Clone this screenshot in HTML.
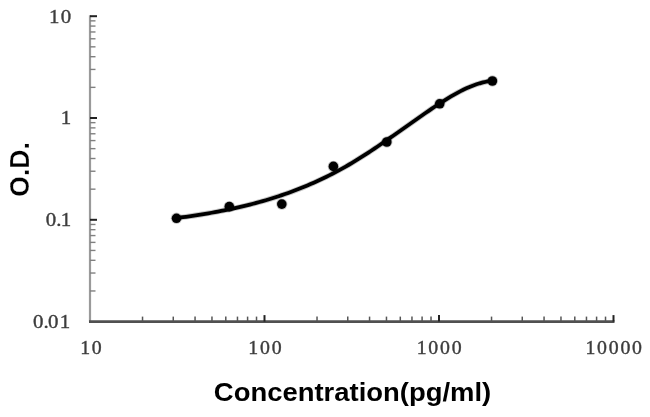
<!DOCTYPE html>
<html><head><meta charset="utf-8"><style>
html,body{margin:0;padding:0;background:#fff;}
body{width:650px;height:417px;overflow:hidden;position:relative;}
svg{position:absolute;left:0;top:0;will-change:transform;}
.dy{font-family:"Liberation Serif",serif;font-size:19px;fill:#3c3c3c;stroke:#3c3c3c;stroke-width:0.35px;letter-spacing:1.2px;}
.dx{font-family:"Liberation Serif",serif;font-size:18px;fill:#3c3c3c;stroke:#3c3c3c;stroke-width:0.35px;letter-spacing:1.6px;}
.t{font-family:"Liberation Sans",sans-serif;font-weight:bold;font-size:26px;fill:#000;}
.o{font-family:"Liberation Sans",sans-serif;font-weight:bold;font-size:28.5px;fill:#000;stroke:#fff;stroke-width:0.3px;}
</style></head><body>
<svg width="650" height="417" viewBox="0 0 650 417">
<rect width="650" height="417" fill="#fff"/>
<g>
<line x1="90.00" y1="15.20" x2="90.00" y2="321.60" stroke="#9a9a9a" stroke-width="2.2"/>
<line x1="89.00" y1="321.60" x2="614.50" y2="321.60" stroke="#505050" stroke-width="2.6"/>
<line x1="90.00" y1="16.20" x2="97.00" y2="16.20" stroke="#222" stroke-width="2"/>
<line x1="90.00" y1="87.36" x2="95.50" y2="87.36" stroke="#808080" stroke-width="1.4"/>
<line x1="90.00" y1="69.43" x2="95.50" y2="69.43" stroke="#808080" stroke-width="1.4"/>
<line x1="90.00" y1="56.71" x2="95.50" y2="56.71" stroke="#808080" stroke-width="1.4"/>
<line x1="90.00" y1="46.84" x2="95.50" y2="46.84" stroke="#808080" stroke-width="1.4"/>
<line x1="90.00" y1="38.78" x2="95.50" y2="38.78" stroke="#808080" stroke-width="1.4"/>
<line x1="90.00" y1="31.97" x2="95.50" y2="31.97" stroke="#808080" stroke-width="1.4"/>
<line x1="90.00" y1="26.07" x2="95.50" y2="26.07" stroke="#808080" stroke-width="1.4"/>
<line x1="90.00" y1="20.86" x2="95.50" y2="20.86" stroke="#808080" stroke-width="1.4"/>
<line x1="90.00" y1="118.00" x2="97.00" y2="118.00" stroke="#222" stroke-width="2"/>
<line x1="90.00" y1="189.16" x2="95.50" y2="189.16" stroke="#808080" stroke-width="1.4"/>
<line x1="90.00" y1="171.23" x2="95.50" y2="171.23" stroke="#808080" stroke-width="1.4"/>
<line x1="90.00" y1="158.51" x2="95.50" y2="158.51" stroke="#808080" stroke-width="1.4"/>
<line x1="90.00" y1="148.64" x2="95.50" y2="148.64" stroke="#808080" stroke-width="1.4"/>
<line x1="90.00" y1="140.58" x2="95.50" y2="140.58" stroke="#808080" stroke-width="1.4"/>
<line x1="90.00" y1="133.77" x2="95.50" y2="133.77" stroke="#808080" stroke-width="1.4"/>
<line x1="90.00" y1="127.87" x2="95.50" y2="127.87" stroke="#808080" stroke-width="1.4"/>
<line x1="90.00" y1="122.66" x2="95.50" y2="122.66" stroke="#808080" stroke-width="1.4"/>
<line x1="90.00" y1="219.80" x2="97.00" y2="219.80" stroke="#222" stroke-width="2"/>
<line x1="90.00" y1="290.96" x2="95.50" y2="290.96" stroke="#808080" stroke-width="1.4"/>
<line x1="90.00" y1="273.03" x2="95.50" y2="273.03" stroke="#808080" stroke-width="1.4"/>
<line x1="90.00" y1="260.31" x2="95.50" y2="260.31" stroke="#808080" stroke-width="1.4"/>
<line x1="90.00" y1="250.44" x2="95.50" y2="250.44" stroke="#808080" stroke-width="1.4"/>
<line x1="90.00" y1="242.38" x2="95.50" y2="242.38" stroke="#808080" stroke-width="1.4"/>
<line x1="90.00" y1="235.57" x2="95.50" y2="235.57" stroke="#808080" stroke-width="1.4"/>
<line x1="90.00" y1="229.67" x2="95.50" y2="229.67" stroke="#808080" stroke-width="1.4"/>
<line x1="90.00" y1="224.46" x2="95.50" y2="224.46" stroke="#808080" stroke-width="1.4"/>
<line x1="142.53" y1="321.60" x2="142.53" y2="316.60" stroke="#555" stroke-width="1.5"/>
<line x1="173.26" y1="321.60" x2="173.26" y2="316.60" stroke="#555" stroke-width="1.5"/>
<line x1="195.06" y1="321.60" x2="195.06" y2="316.60" stroke="#555" stroke-width="1.5"/>
<line x1="211.97" y1="321.60" x2="211.97" y2="316.60" stroke="#555" stroke-width="1.5"/>
<line x1="225.79" y1="321.60" x2="225.79" y2="316.60" stroke="#555" stroke-width="1.5"/>
<line x1="237.47" y1="321.60" x2="237.47" y2="316.60" stroke="#555" stroke-width="1.5"/>
<line x1="247.59" y1="321.60" x2="247.59" y2="316.60" stroke="#555" stroke-width="1.5"/>
<line x1="256.52" y1="321.60" x2="256.52" y2="316.60" stroke="#555" stroke-width="1.5"/>
<line x1="264.50" y1="321.60" x2="264.50" y2="315.10" stroke="#222" stroke-width="2"/>
<line x1="317.03" y1="321.60" x2="317.03" y2="316.60" stroke="#555" stroke-width="1.5"/>
<line x1="347.76" y1="321.60" x2="347.76" y2="316.60" stroke="#555" stroke-width="1.5"/>
<line x1="369.56" y1="321.60" x2="369.56" y2="316.60" stroke="#555" stroke-width="1.5"/>
<line x1="386.47" y1="321.60" x2="386.47" y2="316.60" stroke="#555" stroke-width="1.5"/>
<line x1="400.29" y1="321.60" x2="400.29" y2="316.60" stroke="#555" stroke-width="1.5"/>
<line x1="411.97" y1="321.60" x2="411.97" y2="316.60" stroke="#555" stroke-width="1.5"/>
<line x1="422.09" y1="321.60" x2="422.09" y2="316.60" stroke="#555" stroke-width="1.5"/>
<line x1="431.02" y1="321.60" x2="431.02" y2="316.60" stroke="#555" stroke-width="1.5"/>
<line x1="439.00" y1="321.60" x2="439.00" y2="315.10" stroke="#222" stroke-width="2"/>
<line x1="491.53" y1="321.60" x2="491.53" y2="316.60" stroke="#555" stroke-width="1.5"/>
<line x1="522.26" y1="321.60" x2="522.26" y2="316.60" stroke="#555" stroke-width="1.5"/>
<line x1="544.06" y1="321.60" x2="544.06" y2="316.60" stroke="#555" stroke-width="1.5"/>
<line x1="560.97" y1="321.60" x2="560.97" y2="316.60" stroke="#555" stroke-width="1.5"/>
<line x1="574.79" y1="321.60" x2="574.79" y2="316.60" stroke="#555" stroke-width="1.5"/>
<line x1="586.47" y1="321.60" x2="586.47" y2="316.60" stroke="#555" stroke-width="1.5"/>
<line x1="596.59" y1="321.60" x2="596.59" y2="316.60" stroke="#555" stroke-width="1.5"/>
<line x1="605.52" y1="321.60" x2="605.52" y2="316.60" stroke="#555" stroke-width="1.5"/>
<line x1="613.50" y1="321.60" x2="613.50" y2="315.10" stroke="#222" stroke-width="2"/>
<polyline points="176.50,218.11 179.69,217.68 182.88,217.24 186.08,216.80 189.27,216.34 192.46,215.87 195.65,215.38 198.84,214.88 202.04,214.37 205.23,213.84 208.42,213.30 211.61,212.75 214.80,212.17 217.99,211.58 221.19,210.97 224.38,210.34 227.57,209.70 230.76,209.03 233.95,208.34 237.15,207.63 240.34,206.90 243.53,206.15 246.72,205.38 249.91,204.58 253.11,203.76 256.30,202.91 259.49,202.04 262.68,201.14 265.87,200.21 269.07,199.26 272.26,198.28 275.45,197.27 278.64,196.23 281.83,195.16 285.03,194.07 288.22,192.94 291.41,191.78 294.60,190.58 297.79,189.35 300.98,188.09 304.18,186.80 307.37,185.47 310.56,184.11 313.75,182.70 316.94,181.27 320.14,179.79 323.33,178.28 326.52,176.73 329.71,175.14 332.90,173.50 336.10,171.83 339.29,170.12 342.48,168.37 345.67,166.57 348.86,164.73 352.06,162.84 355.25,160.92 358.44,158.95 361.63,156.95 364.82,154.91 368.02,152.84 371.21,150.74 374.40,148.62 377.59,146.47 380.78,144.30 383.97,142.10 387.17,139.90 390.36,137.67 393.55,135.44 396.74,133.20 399.93,130.95 403.13,128.70 406.32,126.44 409.51,124.19 412.70,121.94 415.89,119.70 419.09,117.46 422.28,115.24 425.47,113.03 428.66,110.84 431.85,108.67 435.05,106.52 438.24,104.40 441.43,102.33 444.62,100.30 447.81,98.33 451.01,96.42 454.20,94.58 457.39,92.82 460.58,91.14 463.77,89.56 466.96,88.08 470.16,86.70 473.35,85.45 476.54,84.31 479.73,83.31 482.92,82.45 486.12,81.73 489.31,81.17 492.50,80.77" fill="none" stroke="#000" stroke-opacity="0.22" stroke-width="5.6" stroke-linejoin="round" stroke-linecap="round"/>
<polyline points="176.50,218.11 179.69,217.68 182.88,217.24 186.08,216.80 189.27,216.34 192.46,215.87 195.65,215.38 198.84,214.88 202.04,214.37 205.23,213.84 208.42,213.30 211.61,212.75 214.80,212.17 217.99,211.58 221.19,210.97 224.38,210.34 227.57,209.70 230.76,209.03 233.95,208.34 237.15,207.63 240.34,206.90 243.53,206.15 246.72,205.38 249.91,204.58 253.11,203.76 256.30,202.91 259.49,202.04 262.68,201.14 265.87,200.21 269.07,199.26 272.26,198.28 275.45,197.27 278.64,196.23 281.83,195.16 285.03,194.07 288.22,192.94 291.41,191.78 294.60,190.58 297.79,189.35 300.98,188.09 304.18,186.80 307.37,185.47 310.56,184.11 313.75,182.70 316.94,181.27 320.14,179.79 323.33,178.28 326.52,176.73 329.71,175.14 332.90,173.50 336.10,171.83 339.29,170.12 342.48,168.37 345.67,166.57 348.86,164.73 352.06,162.84 355.25,160.92 358.44,158.95 361.63,156.95 364.82,154.91 368.02,152.84 371.21,150.74 374.40,148.62 377.59,146.47 380.78,144.30 383.97,142.10 387.17,139.90 390.36,137.67 393.55,135.44 396.74,133.20 399.93,130.95 403.13,128.70 406.32,126.44 409.51,124.19 412.70,121.94 415.89,119.70 419.09,117.46 422.28,115.24 425.47,113.03 428.66,110.84 431.85,108.67 435.05,106.52 438.24,104.40 441.43,102.33 444.62,100.30 447.81,98.33 451.01,96.42 454.20,94.58 457.39,92.82 460.58,91.14 463.77,89.56 466.96,88.08 470.16,86.70 473.35,85.45 476.54,84.31 479.73,83.31 482.92,82.45 486.12,81.73 489.31,81.17 492.50,80.77" fill="none" stroke="#000" stroke-width="3.8" stroke-linejoin="round" stroke-linecap="round"/>
<circle cx="176.5" cy="218.3" r="5.7" fill="#000" fill-opacity="0.22"/>
<circle cx="176.5" cy="218.3" r="4.800000000000001" fill="#000"/>
<circle cx="229.3" cy="206.6" r="5.7" fill="#000" fill-opacity="0.22"/>
<circle cx="229.3" cy="206.6" r="4.800000000000001" fill="#000"/>
<circle cx="281.8" cy="204.1" r="5.7" fill="#000" fill-opacity="0.22"/>
<circle cx="281.8" cy="204.1" r="4.800000000000001" fill="#000"/>
<circle cx="333.4" cy="166.4" r="5.7" fill="#000" fill-opacity="0.22"/>
<circle cx="333.4" cy="166.4" r="4.800000000000001" fill="#000"/>
<circle cx="386.8" cy="142.0" r="5.7" fill="#000" fill-opacity="0.22"/>
<circle cx="386.8" cy="142.0" r="4.800000000000001" fill="#000"/>
<circle cx="439.7" cy="103.8" r="5.7" fill="#000" fill-opacity="0.22"/>
<circle cx="439.7" cy="103.8" r="4.800000000000001" fill="#000"/>
<circle cx="492.4" cy="81.0" r="5.7" fill="#000" fill-opacity="0.22"/>
<circle cx="492.4" cy="81.0" r="4.800000000000001" fill="#000"/>
<text class="dy" transform="translate(72.5,22.6) scale(1.1,1)" text-anchor="end">10</text>
<text class="dy" transform="translate(72.5,124.1) scale(1.1,1)" text-anchor="end">1</text>
<text class="dy" transform="translate(72.5,226.1) scale(1.1,1)" text-anchor="end">0<tspan dx="-1.2">.</tspan><tspan dx="-1.8">1</tspan></text>
<text class="dy" transform="translate(71.5,327.6) scale(1.1,1)" text-anchor="end">0<tspan dx="-1.2">.</tspan><tspan dx="-1.8">01</tspan></text>
<text class="dx" transform="translate(91.8,353.5) scale(1.1,1)" text-anchor="middle">10</text>
<text class="dx" transform="translate(265.8,353.5) scale(1.1,1)" text-anchor="middle">100</text>
<text class="dx" transform="translate(440.0,353.5) scale(1.1,1)" text-anchor="middle">1000</text>
<text class="dx" transform="translate(614.5999999999999,353.5) scale(1.1,1)" text-anchor="middle">10000</text>
<text class="t" transform="translate(352.5,400.7) scale(1.055,1)" text-anchor="middle">Concentration(pg/ml)</text>
<text class="o" transform="translate(29,169.5) rotate(-90) scale(0.93,1)" text-anchor="middle">O.D.</text>
</g>
</svg>
</body></html>
